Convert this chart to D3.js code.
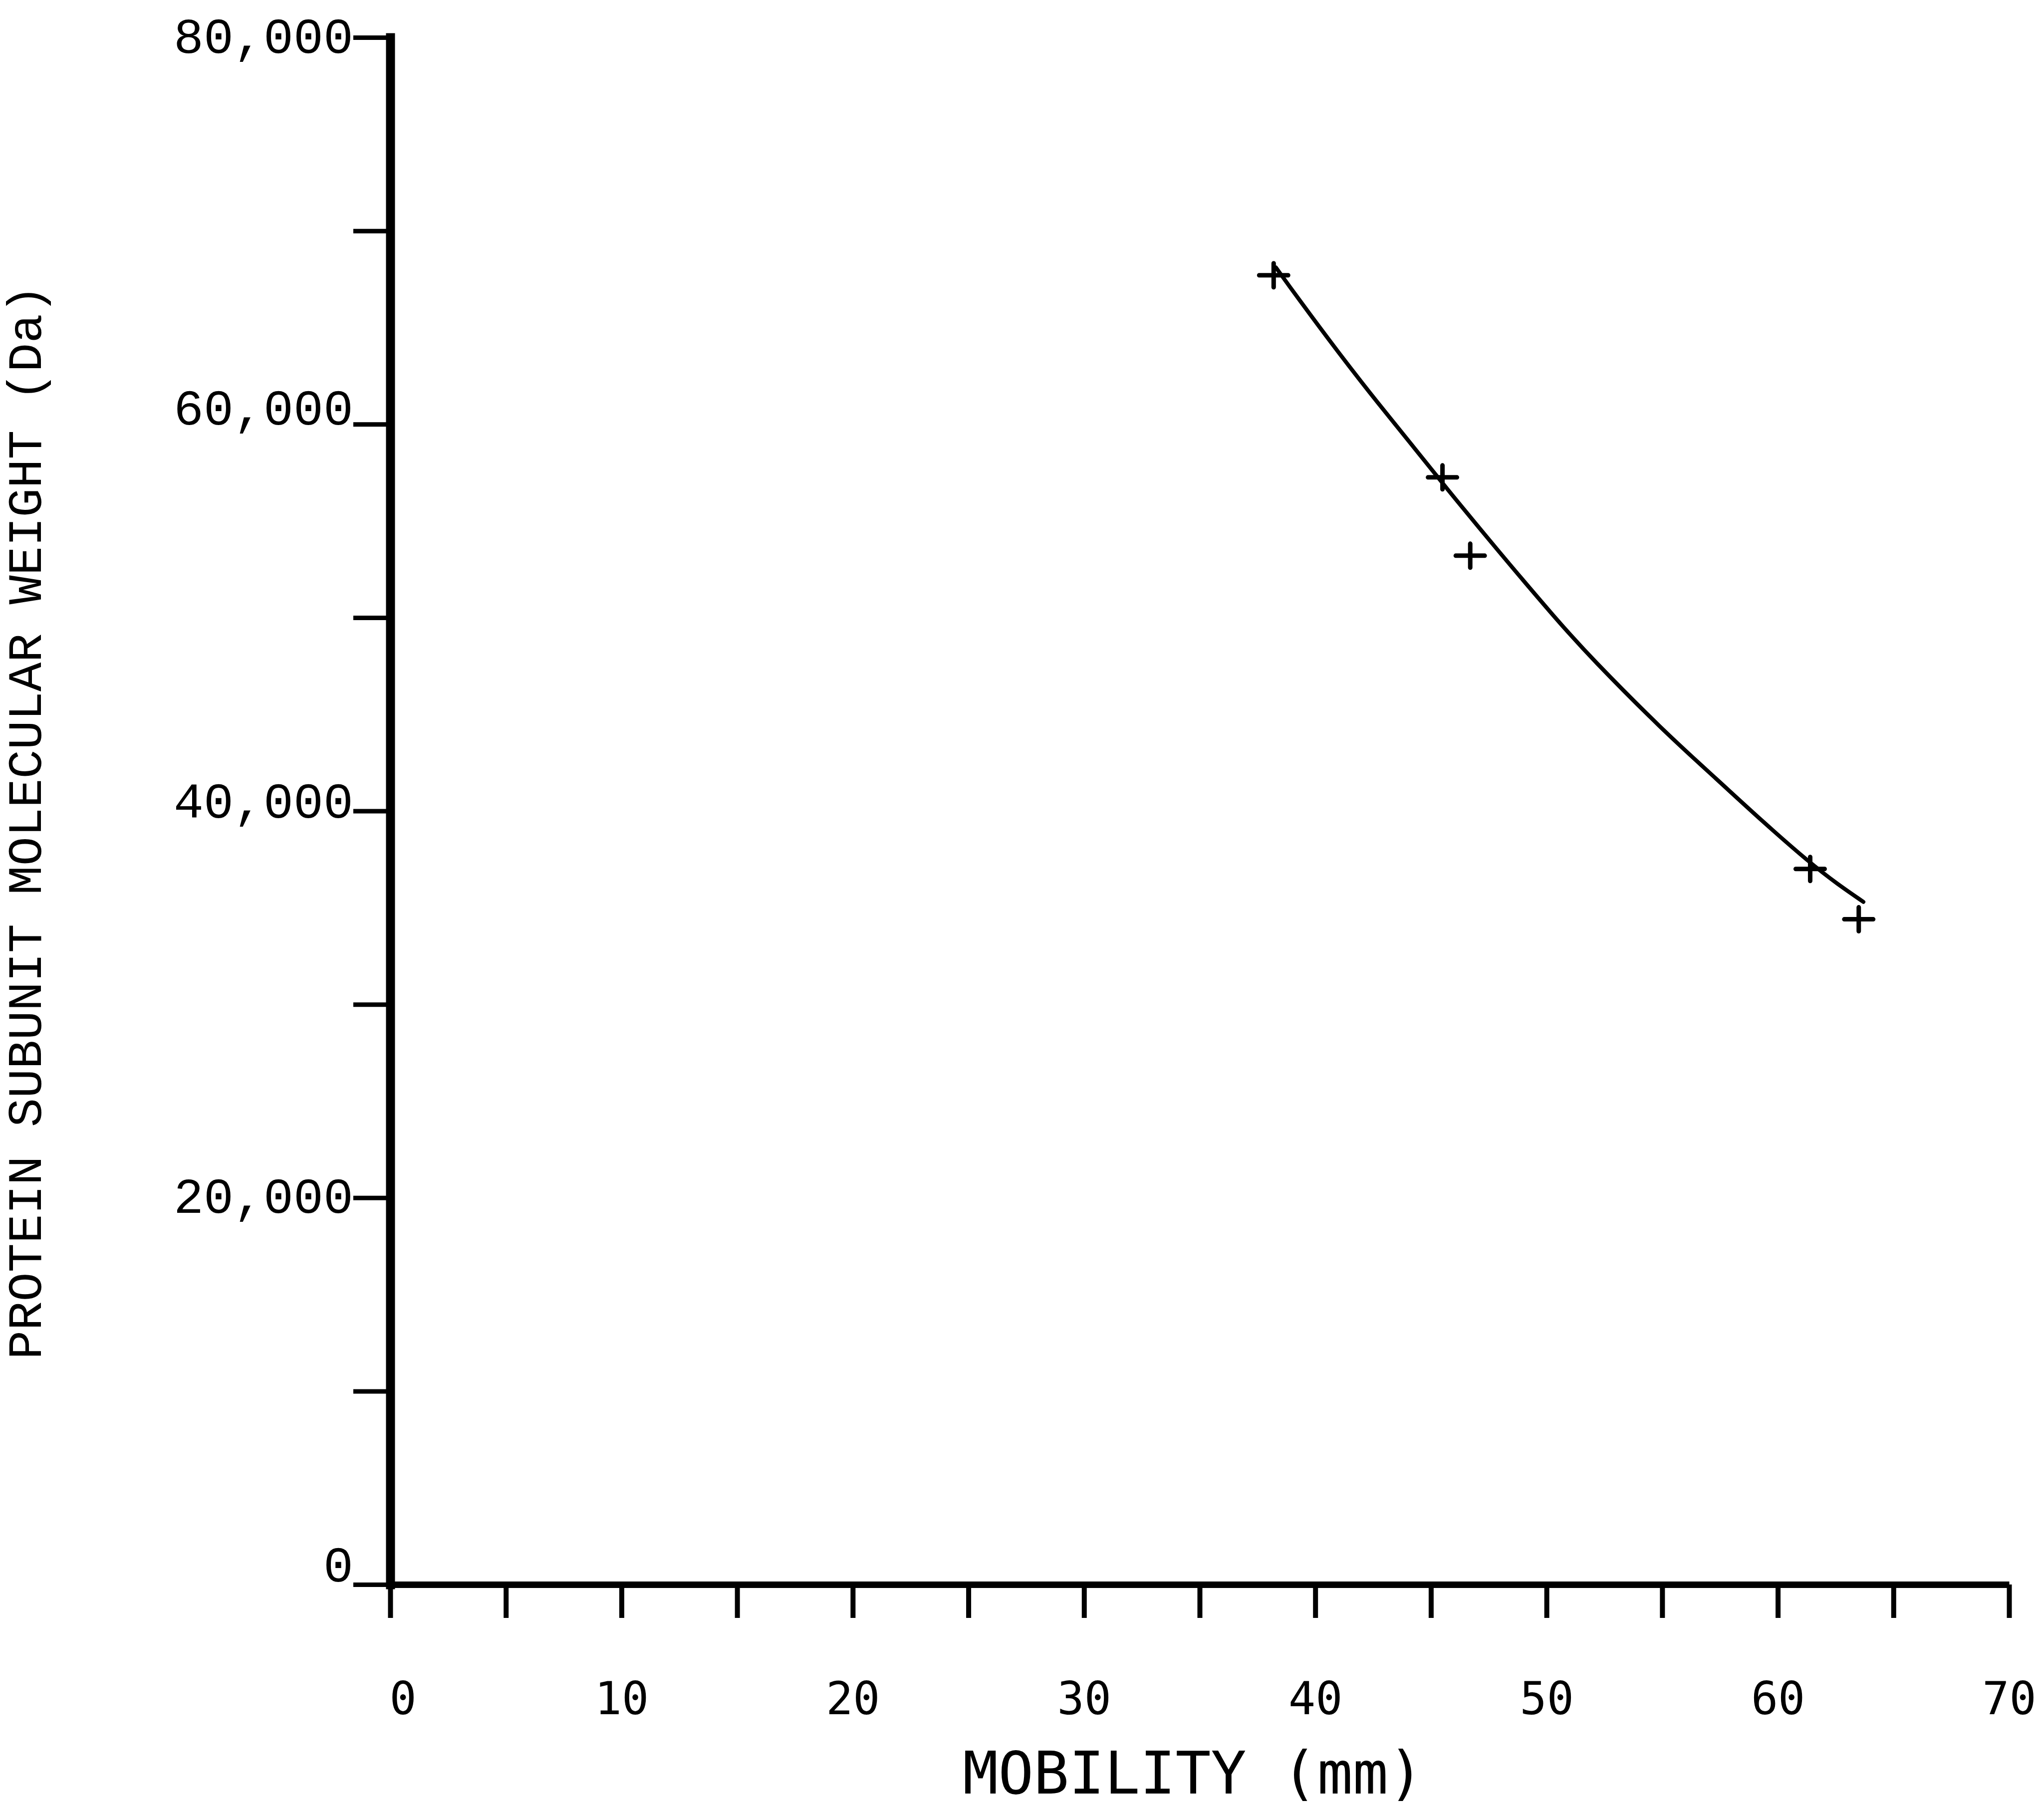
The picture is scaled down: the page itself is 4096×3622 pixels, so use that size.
<!DOCTYPE html>
<html>
<head>
<meta charset="utf-8">
<script src="https://cdn.jsdelivr.net/npm/d3@7"></script>
<style>
  html, body { margin: 0; padding: 0; background: #fff; }
  svg { display: block; }
</style>
</head>
<body>
<div id="chart"></div>
<script>

// marker proteins: mobility (mm) / subunit weight (Da)
const markerMobility = [38.2, 45.5, 46.7, 61.4, 63.5];
const markerWeight = [67700, 57250, 53200, 37000, 34400];

// the drawn calibration curve, traced point by point
const curveMobility = [38.3, 39.2, 41.0, 42.7, 44.2, 45.6, 47.8, 50.5, 51.9, 55.0, 57.4, 59.3, 61.4, 62.6, 63.7];
const curveWeight = [68100, 66600, 63700, 61100, 58900, 56800, 53600, 49800, 47950, 44200, 41600, 39500, 37300, 36200, 35300];

const xTickValues = [0, 5, 10, 15, 20, 25, 30, 35, 40, 45, 50, 55, 60, 65, 70];
const xTickLabels = ["0", "", "10", "", "20", "", "30", "", "40", "", "50", "", "60", "", "70"];
const yTickValues = [0, 10000, 20000, 30000, 40000, 50000, 60000, 70000, 80000];
const yTickLabels = ["0", "", "20,000", "", "40,000", "", "60,000", "", "80,000"];

const xTitle = "MOBILITY (mm)";
const yTitle = "PROTEIN SUBUNIT MOLECULAR WEIGHT (Da)";


var width = 4096;
var height = 3622;

var svg = d3.select("#chart").append("svg")
    .attr("width", width)
    .attr("height", height)
    .style("background", "#fff");

var x = d3.scaleLinear().domain([0, 70]).range([782, 4026]);
var y = d3.scaleLinear().domain([0, 80000]).range([3176, 75]);

// typed labels don't all sit at the same height against their ticks
const yLabelBaseline = { 0: -7, 20000: 30, 40000: 13, 60000: 0, 80000: 30 };

// ---- x axis
var xAxis = d3.axisBottom(x)
    .tickValues(xTickValues)
    .tickFormat((d, i) => xTickLabels[i])
    .tickSize(67)
    .tickSizeOuter(0)
    .tickPadding(0);

var gx = svg.append("g")
    .attr("transform", `translate(0,${y(0)})`)
    .call(xAxis);

gx.select(".domain")
    .attr("stroke", "#000")
    .attr("stroke-width", 13);

gx.selectAll(".tick line")
    .attr("stroke", "#000")
    .attr("stroke-width", 10);

gx.selectAll(".tick text")
    .attr("y", 3436 - y(0))
    .attr("dy", 0)
    .attr("dx", d => d === 0 ? 25 : 0)
    .attr("fill", "#000")
    .style("font-family", "'DejaVu Sans Mono', monospace")
    .style("font-size", "90px");

// ---- y axis
var yAxis = d3.axisLeft(y)
    .tickValues(yTickValues)
    .tickFormat((d, i) => yTickLabels[i])
    .tickSize(74)
    .tickSizeOuter(0);

var gy = svg.append("g")
    .attr("transform", `translate(${x(0)},0)`)
    .call(yAxis);

gy.select(".domain")
    .attr("stroke", "#000")
    .attr("stroke-width", 18)
    .attr("stroke-linecap", "square");

gy.selectAll(".tick line")
    .attr("stroke", "#000")
    .attr("stroke-width", 9);

gy.selectAll(".tick text")
    .attr("x", -74)
    .attr("dy", 0)
    .attr("y", d => yLabelBaseline[d] || 0)
    .attr("fill", "#000")
    .attr("text-anchor", "end")
    .style("font-family", "'Liberation Mono', monospace")
    .style("font-size", "100px");

gx.selectAll("text, line, path").raise();
svg.selectAll(".domain").attr("fill", "none");

// ---- axis titles
svg.append("text")
    .attr("x", 2391)
    .attr("y", 3595)
    .attr("text-anchor", "middle")
    .style("font-family", "'DejaVu Sans Mono', monospace")
    .style("font-size", "118px")
    .text(xTitle);

svg.append("text")
    .attr("transform", "translate(82,1648) rotate(-90)")
    .attr("text-anchor", "middle")
    .style("font-family", "'Liberation Mono', monospace")
    .style("font-size", "97px")
    .text(yTitle);

// ---- fitted curve
const curveData = curveMobility.map((m, i) => ({ m: m, w: curveWeight[i] }));

var line = d3.line()
    .x(d => x(d.m))
    .y(d => y(d.w))
    .curve(d3.curveBasis);

svg.append("path")
    .datum(curveData)
    .attr("d", line)
    .attr("fill", "none")
    .attr("stroke", "#000")
    .attr("stroke-width", 8)
    .attr("stroke-linecap", "round");

// ---- markers (+)
const markerData = markerMobility.map((m, i) => ({ m: m, w: markerWeight[i] }));

svg.append("g")
    .selectAll("path")
    .data(markerData)
    .enter()
    .append("path")
    .attr("transform", d => `translate(${x(d.m)},${y(d.w)})`)
    .attr("d", "M-29,0H29M0,-24V24")
    .attr("fill", "none")
    .attr("stroke", "#000")
    .attr("stroke-width", 9)
    .attr("stroke-linecap", "round");

</script>
</body>
</html>
